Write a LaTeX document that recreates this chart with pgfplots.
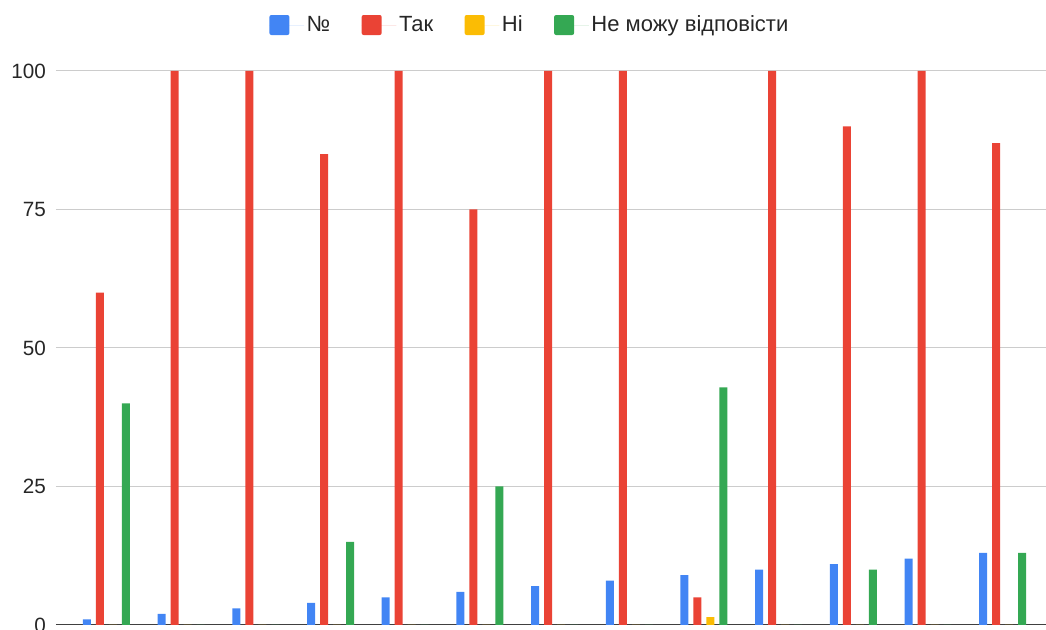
\documentclass[border=0pt]{standalone}
\usepackage{pgfplots}
\pgfplotsset{compat=1.18}
\usepackage{pgfplotstable}
\usepackage{fontspec}
\setmainfont{Liberation Sans}

\definecolor{cblue}{HTML}{4285F4}
\definecolor{cred}{HTML}{EA4335}
\definecolor{cyellow}{HTML}{FBBC04}
\definecolor{cgreen}{HTML}{34A853}

% group  №  Так  Ні  Не можу відповісти
\pgfplotstableread{
g  n   tak  ni   ne
1  1   60   0    40
2  2   100  0    0
3  3   100  0    0
4  4   85   0    15
5  5   100  0    0
6  6   75   0    25
7  7   100  0    0
8  8   100  0    0
9  9   5    1.4  42.9
10 10  100  0    0
11 11  90   0    10
12 12  100  0    0
13 13  87   0    13
}\data

\begin{document}
\begin{tikzpicture}
\begin{axis}[
    scale only axis,
    width=742.5pt, height=415.5pt,
    xmin=0.324, xmax=13.58,
    ymin=0, ymax=100,
    ybar, bar width=0.107,
    xtick=\empty,
    ytick={0,25,50,75,100},
    major tick length=0pt,
    ymajorgrids,
    grid style={draw=black!20, line width=0.75pt},
    axis x line*=bottom,
    axis y line*=left,
    x axis line style={draw=black!75, line width=0.75pt, -},
    y axis line style={draw=none},
    /pgf/number format/assume math mode=true,
    tick label style={font=\fontsize{15.5}{18}\selectfont, text=black!85},
    yticklabel style={xshift=-4pt},
    legend columns=4,
    legend style={at={(0.479,1.083)}, anchor=center, draw=none, fill=none,
        font=\fontsize{16.5}{19}\selectfont, text=black!85,
        /tikz/every even column/.append style={column sep=21.5pt}},
    legend image code/.code={%
        \path (0pt,0pt) -- (26pt,0pt);
        \fill[#1, rounded corners=1.5pt] (0pt,-7.5pt) rectangle (15pt,7.5pt);},
]
\addplot[fill=cblue, draw=none, bar shift=-0.261] table[x=g, y=n] {\data};
\addplot[fill=cred, draw=none, bar shift=-0.087] table[x=g, y=tak] {\data};
\addplot[fill=cyellow, draw=none, bar shift=0.087] table[x=g, y=ni] {\data};
\addplot[fill=cgreen, draw=none, bar shift=0.261] table[x=g, y=ne] {\data};
\legend{№, Так, Ні, Не можу відповісти}
\coordinate (sw) at (rel axis cs:0,0);
\coordinate (ne) at (rel axis cs:1,1);
\end{axis}
\pgfresetboundingbox
\path[use as bounding box] ([shift={(-42pt,-3.75pt)}]sw) rectangle ([shift={(0pt,53.25pt)}]ne);
\end{tikzpicture}
\end{document}
